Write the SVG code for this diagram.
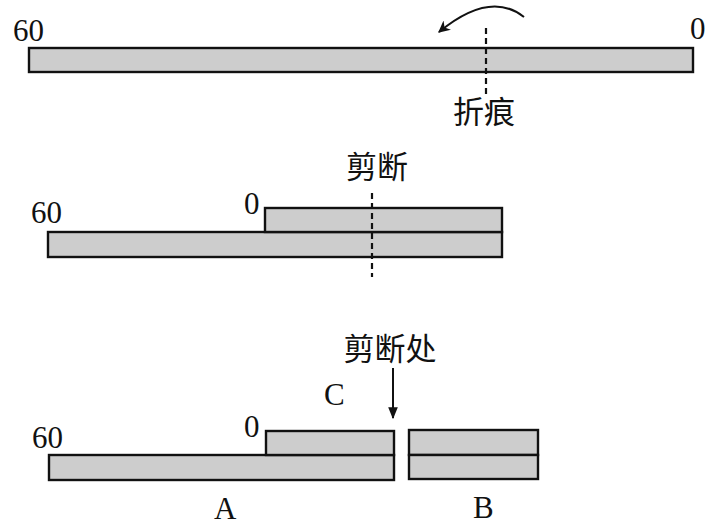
<svg xmlns="http://www.w3.org/2000/svg" width="716" height="526" viewBox="0 0 716 526">
<style>
.strip{fill:#cdcdcd;stroke:#111;stroke-width:2.4}
.dash{stroke:#111;stroke-width:2.2;stroke-dasharray:6,4;fill:none}
.num{font-family:"Liberation Serif","Times New Roman",serif;font-size:31px;fill:#111}
.cjk{font-family:"Noto Sans CJK SC","Noto Sans CJK JP",sans-serif;font-size:31px;fill:#111}
.conn{stroke:#111;stroke-width:2;fill:none}
</style>
<defs>
<marker id="ah" viewBox="0 0 10 10" refX="9" refY="5" markerWidth="12" markerHeight="12" markerUnits="userSpaceOnUse" orient="auto">
<path d="M0,0 L10,5 L0,10 L3,5 Z" fill="#111"/>
</marker>
<marker id="ah2" viewBox="0 0 10 10" refX="9" refY="5" markerWidth="12" markerHeight="12" markerUnits="userSpaceOnUse" orient="auto">
<path d="M0,1 L10,5 L0,9 Z" fill="#111"/>
</marker>
</defs>
<rect width="716" height="526" fill="#fff"/>

<g id="stage1">
<rect class="strip" x="29" y="48" width="664" height="24"/>
<text class="num" x="13" y="41">60</text>
<text class="num" x="690" y="39">0</text>
<text class="cjk" x="484" y="123" text-anchor="middle">折痕</text>
</g>

<g id="stage2">
<rect class="strip" x="48" y="232" width="454" height="25"/>
<rect class="strip" x="265" y="208" width="237" height="24"/>
<text class="num" x="31" y="223">60</text>
<text class="num" x="244" y="214">0</text>
<text class="cjk" x="377" y="178" text-anchor="middle">剪断</text>
</g>

<g id="stage3">
<rect class="strip" x="49" y="455" width="345" height="25"/>
<rect class="strip" x="266" y="431" width="128" height="24"/>
<rect class="strip" x="409" y="430" width="129" height="25"/>
<rect class="strip" x="409" y="455" width="129" height="24"/>
<text class="num" x="32" y="448">60</text>
<text class="num" x="244" y="437">0</text>
<text class="num" x="324" y="405">C</text>
<text class="num" x="214" y="519">A</text>
<text class="num" x="473" y="518">B</text>
<text class="cjk" x="390" y="360" text-anchor="middle">剪断处</text>
</g>

<g id="connectors">
<line class="dash" x1="486" y1="28" x2="486" y2="95"/>
<line class="dash" x1="372" y1="193" x2="372" y2="277"/>
<path class="conn" d="M524,17 Q490,-10 439,32" marker-end="url(#ah)"/>
<line class="conn" x1="393" y1="368" x2="393" y2="418" marker-end="url(#ah2)"/>
</g>
</svg>
